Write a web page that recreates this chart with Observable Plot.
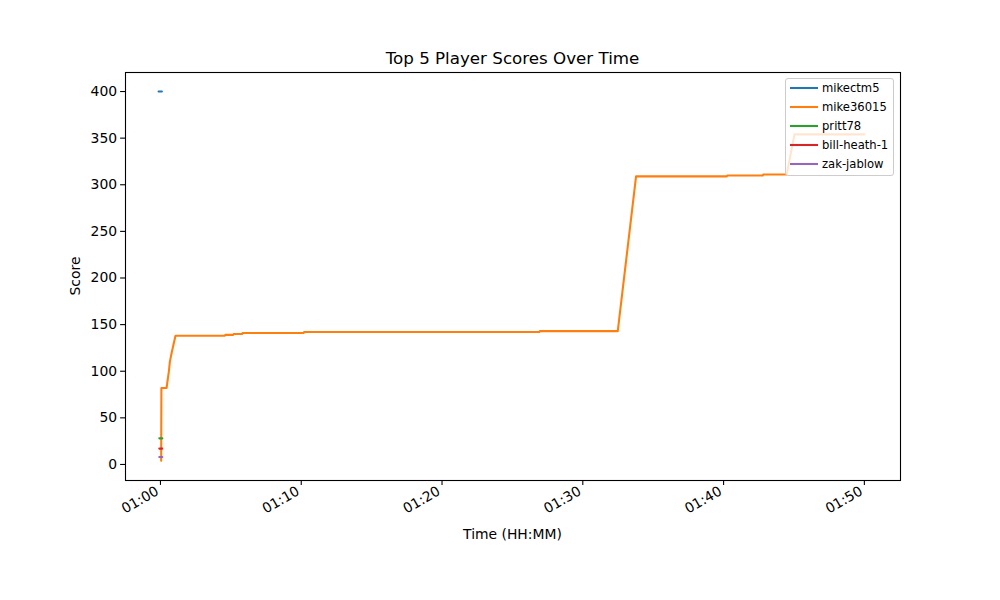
<!DOCTYPE html>
<html><head><meta charset="utf-8">
<script src="https://cdn.jsdelivr.net/npm/d3@7"></script>
<script src="https://cdn.jsdelivr.net/npm/@observablehq/plot@0.6"></script>
<style>body{margin:0;background:#fff} #chart svg{font-family:"DejaVu Sans",sans-serif}</style>
</head><body><div id="chart"></div>
<script>
const players = ["mikectm5", "mike36015", "pritt78", "bill-heath-1", "zak-jablow"];
const colors = ["#1f77b4", "#ff7f0e", "#2ca02c", "#d62728", "#9467bd"];

const mikectm5Times = ["00:59:52", "01:00:06"];
const mikectm5Scores = [400, 400];

const mike36015Times = ["01:00:03", "01:00:04", "01:00:26", "01:00:36", "01:00:40", "01:00:48", "01:01:04",
  "01:04:34", "01:04:36", "01:05:10", "01:05:12", "01:05:48", "01:05:50", "01:10:10", "01:10:12",
  "01:26:55", "01:26:57", "01:32:29", "01:33:47", "01:40:14", "01:40:16", "01:42:47", "01:42:49",
  "01:44:29", "01:45:02", "01:50:00"];
const mike36015Scores = [4, 82, 82, 100, 110, 120, 138,
  138, 139, 139, 140, 140, 141, 141, 142,
  142, 143, 143, 309, 309, 310, 310, 311,
  311, 354, 354];

const pritt78Times = ["00:59:55", "01:00:08"];
const pritt78Scores = [28, 28];
const billHeathTimes = ["00:59:55", "01:00:08"];
const billHeathScores = [17, 17];
const zakJablowTimes = ["00:59:55", "01:00:08"];
const zakJablowScores = [8, 8];

const xTickLabels = ["01:00", "01:10", "01:20", "01:30", "01:40", "01:50"];
const yTicks = [0, 50, 100, 150, 200, 250, 300, 350, 400];

const toDate = s => { const p = s.split(":").map(Number); return new Date(Date.UTC(2024, 0, 1, p[0], p[1], p[2] || 0)); };

const seriesTimes = [mikectm5Times, mike36015Times, pritt78Times, billHeathTimes, zakJablowTimes];
const seriesScores = [mikectm5Scores, mike36015Scores, pritt78Scores, billHeathScores, zakJablowScores];
const rows = [];
players.forEach((p, i) => seriesTimes[i].forEach((t, j) => rows.push({player: p, t: toDate(t), score: seriesScores[i][j]})));

const xTickDates = xTickLabels.map(toDate);

const chart = Plot.plot({
  width: 1000, height: 600,
  marginTop: 72, marginBottom: 120, marginLeft: 125, marginRight: 100,
  style: {fontFamily: "DejaVu Sans, sans-serif", fontSize: "13.9px", color: "black", background: "white"},
  x: {type: "utc", domain: [toDate("00:57:31"), toDate("01:52:34")]},
  y: {domain: [-17.2, 420.4]},
  color: {domain: players, range: colors},
  marks: [
    Plot.line(rows, {x: "t", y: "score", z: "player", stroke: "player", strokeWidth: 2.08}),
    Plot.axisX({ticks: xTickDates, tickSize: 4.9, text: null, label: null, strokeWidth: 1.1}),
    Plot.axisX({ticks: xTickDates, tickFormat: d3.utcFormat("%H:%M"), tickRotate: -30, tickSize: 0, tickPadding: 9.5, dx: -3, label: null}),
    Plot.axisY({ticks: yTicks, tickSize: 4.9, tickPadding: 3.5, label: null, strokeWidth: 1.1}),
    Plot.frame({stroke: "black", strokeWidth: 1.1})
  ]
});
document.getElementById("chart").appendChild(chart);

const svg = d3.select(chart);
svg.append("text").attr("x", 512.5).attr("y", 64).attr("text-anchor", "middle")
  .style("font-size", "16.7px").attr("fill", "black").text("Top 5 Player Scores Over Time");
svg.append("text").attr("x", 512.5).attr("y", 539).attr("text-anchor", "middle")
  .style("font-size", "13.9px").attr("fill", "black").text("Time (HH:MM)");
svg.append("text").attr("transform", "translate(80,276) rotate(-90)").attr("text-anchor", "middle")
  .style("font-size", "13.9px").attr("fill", "black").text("Score");

const lg = svg.append("g");
lg.append("rect").attr("x", 785.5).attr("y", 78.5).attr("width", 108).attr("height", 97).attr("rx", 2.5)
  .attr("fill", "white").attr("fill-opacity", 0.8).attr("stroke", "#cccccc").attr("stroke-width", 1);
players.forEach((p, i) => {
  const y = 88 + i * 19;
  lg.append("line").attr("x1", 790).attr("x2", 818).attr("y1", y).attr("y2", y).attr("stroke", colors[i]).attr("stroke-width", 2.08);
  lg.append("text").attr("x", 822).attr("y", y + 4).attr("text-anchor", "start").style("font-size", "11.6px").attr("fill", "black").text(p);
});
</script></body></html>
